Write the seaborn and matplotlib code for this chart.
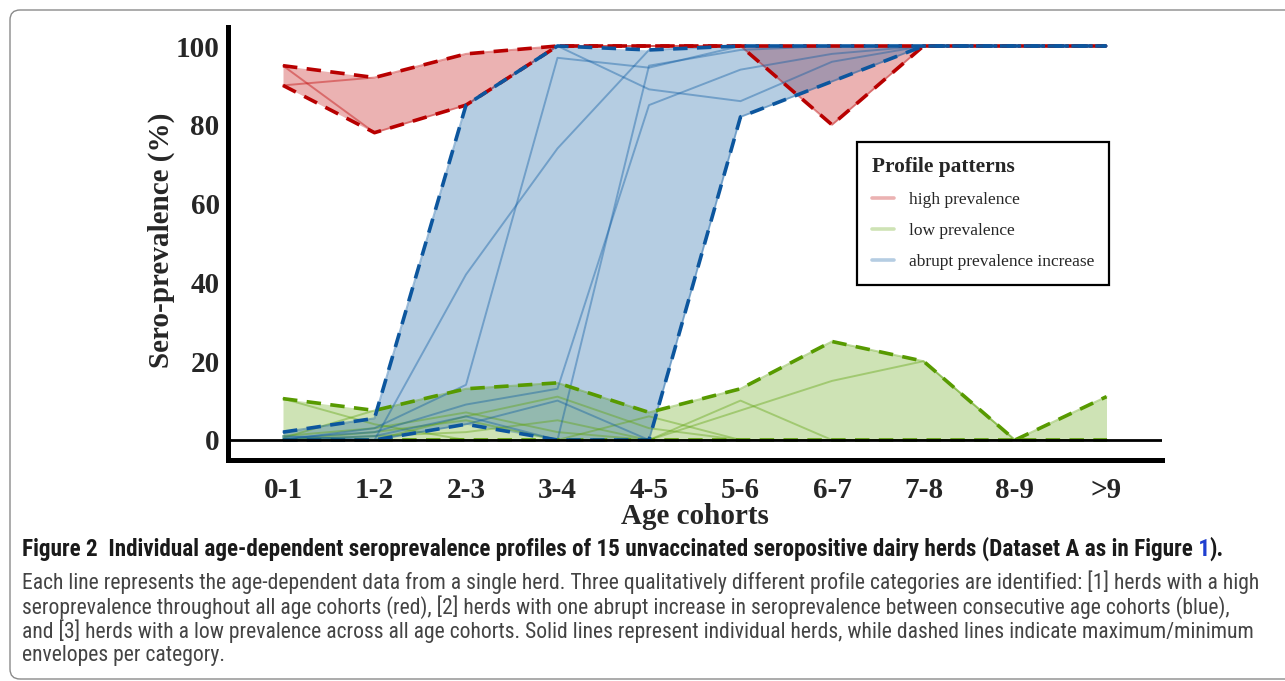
import numpy as np
import pandas as pd
import matplotlib
matplotlib.use("Agg")
import matplotlib.pyplot as plt
import seaborn as sns
from matplotlib.lines import Line2D
from matplotlib.patches import FancyBboxPatch
from matplotlib.transforms import IdentityTransform
from matplotlib import font_manager as fm

# ---------------- data ----------------
cohorts = ["0-1", "1-2", "2-3", "3-4", "4-5", "5-6", "6-7", "7-8", "8-9", ">9"]
y_ticks = [0, 20, 40, 60, 80, 100]

# high prevalence herds
high_1 = [95, 78, 85, 100, 100, 100, 80, 100, 100, 100]
high_2 = [90, 92, 98, 100, 100, 100, 100, 100, 100, 100]

# abrupt prevalence increase herds
abrupt_1 = [2, 5.5, 85, 100, 89, 86, 96, 100, 100, 100]
abrupt_2 = [1, 0, 42, 74, 99, 100, 100, 100, 100, 100]
abrupt_3 = [0, 3, 14, 97, 94.5, 100, 100, 100, 100, 100]
abrupt_4 = [0.5, 2, 9, 13, 85, 94, 98, 100, 100, 100]
abrupt_5 = [0, 1, 6, 0, 95, 99, 100, 100, 100, 100]
abrupt_6 = [0, 0, 4, 10, 0, 82, 91, 100, 100, 100]

# low prevalence herds
low_1 = [10.5, 4, 0, 0, 0, 0, 0, 0, 0, 0]
low_2 = [0.5, 7.5, 13, 14.5, 7, 13, 25, 20, 0, 11]
low_3 = [0, 0, 6, 11, 3, 0, 0, 0, 0, 0]
low_4 = [1, 3, 7, 2, 0, 10, 0, 0, 0, 0]
low_5 = [0, 1, 2, 5, 0, 7.5, 15, 20, 0, 0]
low_6 = [0, 0, 0, 0, 0, 0, 0, 0, 0, 0]
low_7 = [0, 2, 5, 0, 6, 0, 0, 0, 0, 0]

categories = ["low prevalence", "high prevalence", "abrupt prevalence increase"]
legend_order = ["high prevalence", "low prevalence", "abrupt prevalence increase"]
herd_groups = {
    "high prevalence": [high_1, high_2],
    "low prevalence": [low_1, low_2, low_3, low_4, low_5, low_6, low_7],
    "abrupt prevalence increase": [abrupt_1, abrupt_2, abrupt_3, abrupt_4, abrupt_5, abrupt_6],
}

base_colors = {"high prevalence": "#C00000",
               "low prevalence": "#5FA30C",
               "abrupt prevalence increase": "#0B5AA2"}
dash_colors = {"high prevalence": "#B80000",
               "low prevalence": "#579A00",
               "abrupt prevalence increase": "#0C569E"}

rows = []
hid = 0
for cat in categories:
    for herd in herd_groups[cat]:
        hid += 1
        for i, v in enumerate(herd):
            rows.append({"herd": hid, "category": cat, "x": i, "value": v})
df = pd.DataFrame(rows)

# ---------------- figure ----------------
sns.set_style("white")
plt.rcParams["font.family"] = ["Liberation Serif", "DejaVu Serif"]

W, H = 1285, 681
fig = plt.figure(figsize=(W / 100, H / 100), dpi=100)
def fx(px): return px / W
def fy(py): return 1 - py / H

ax_l, ax_r, ax_t, ax_b = 228, 1162, 27, 460
ax = fig.add_axes([fx(ax_l), fy(ax_b), (ax_r - ax_l) / W, (ax_b - ax_t) / H])

x_first_px, x_step_px = 283, 91.5
ax.set_xlim((ax_l - x_first_px) / x_step_px, (ax_r - x_first_px) / x_step_px)
y_px_per = (440 - 46) / 100
ax.set_ylim((440 - ax_b) / y_px_per, (440 - ax_t) / y_px_per)

# envelopes + fills
for cat in categories:
    sub = df[df.category == cat]
    env_max = sub.groupby("x")["value"].max()
    env_min = sub.groupby("x")["value"].min()
    ax.fill_between(env_max.index, env_min.values, env_max.values,
                    color=base_colors[cat], alpha=0.3, lw=0, zorder=1)

# individual herd lines
sns.lineplot(data=df, x="x", y="value", hue="category", units="herd",
             estimator=None, palette=base_colors, hue_order=categories,
             alpha=0.4, lw=1.4, legend=False, ax=ax, zorder=2)

for cat in categories:
    sub = df[df.category == cat]
    env_max = sub.groupby("x")["value"].max()
    env_min = sub.groupby("x")["value"].min()
    for env in (env_max, env_min):
        ax.plot(env.index, env.values, color=dash_colors[cat], lw=2.6,
                linestyle=(0, (4, 2.6)), zorder=3, dash_capstyle="butt")

ax.axhline(0, color="black", lw=2.0, zorder=4)

# axes styling
for s in ["top", "right"]:
    ax.spines[s].set_visible(False)
for s in ["left", "bottom"]:
    ax.spines[s].set_linewidth(3.6)
    ax.spines[s].set_color("black")
ax.set_xticks(range(len(cohorts)))
ax.set_xticklabels(cohorts)
ax.set_yticks(y_ticks)
ax.tick_params(axis="both", which="major", length=4, width=1.8, color="#333333",
               labelsize=21, direction="out")
ax.tick_params(axis="y", pad=2)
ax.tick_params(axis="x", pad=8)
for lab in ax.get_xticklabels() + ax.get_yticklabels():
    lab.set_fontweight("bold")
ax.grid(False)

ax.set_xlabel("Age cohorts", fontsize=21, fontweight="bold", va="center")
ax.set_ylabel("Sero-prevalence (%)", fontsize=21, fontweight="bold", va="center")
ax.xaxis.set_label_coords(0.5, (ax_b - 516) / (ax_b - ax_t))
ax.yaxis.set_label_coords((161 - ax_l) / (ax_r - ax_l), (ax_b - 240) / (ax_b - ax_t))

# legend
handles = [Line2D([0], [0], color=base_colors[c], alpha=0.3, lw=2.6) for c in legend_order]
leg = ax.legend(handles, legend_order, title="Profile patterns",
                loc="upper left",
                bbox_to_anchor=((857 - ax_l) / (ax_r - ax_l), (ax_b - 142) / (ax_b - ax_t)),
                borderaxespad=0, frameon=True, fancybox=False, framealpha=1,
                edgecolor="black", fontsize=12.5, title_fontsize=15.4,
                handlelength=1.3, handletextpad=0.85, labelspacing=0.86,
                borderpad=0.85, alignment="left")
leg.get_frame().set_linewidth(1.6)
leg.get_title().set_fontweight("bold")

# outer rounded frame
frame = FancyBboxPatch((10, 2), 1300, 669, boxstyle="round,pad=0,rounding_size=10",
                       transform=IdentityTransform(), facecolor="none",
                       edgecolor="#8a8a8a", lw=1.0, zorder=0)
fig.patches.append(frame)

# caption
def pick_font(cands):
    for c in cands:
        try:
            fm.findfont(fm.FontProperties(family=c), fallback_to_default=False)
            return c
        except Exception:
            continue
    return "DejaVu Sans"

cap_font = pick_font(["Liberation Sans Narrow", "Roboto Condensed", "Open Sans Condensed",
                      "DejaVu Sans Condensed", "Open Sans", "Noto Sans"])
renderer = fig.canvas.get_renderer()

def fitted_size(s, target_w, weight):
    t = fig.text(0, 0, s, fontsize=12, family=cap_font, fontweight=weight)
    w = t.get_window_extent(renderer).width
    t.remove()
    return 12 * target_w / w

title_a = "Figure 2  Individual age-dependent seroprevalence profiles of 15 unvaccinated seropositive dairy herds (Dataset A as in Figure"
title_b = " 1"
title_c = ")."
bold_size = fitted_size(title_a + title_b + title_c, 1232 - 22, "bold")
xpos = 22
for part, col in [(title_a, "#1a1a1a"), (title_b, "#1f3fd0"), (title_c, "#1a1a1a")]:
    t = fig.text(fx(xpos), fy(549), part, fontsize=bold_size, family=cap_font,
                 fontweight="bold", color=col, va="center", ha="left")
    xpos = t.get_window_extent(renderer).x1

body = [
    "Each line represents the age-dependent data from a single herd. Three qualitatively different profile categories are identified: [1] herds with a high",
    "seroprevalence throughout all age cohorts (red), [2] herds with one abrupt increase in seroprevalence between consecutive age cohorts (blue),",
    "and [3] herds with a low prevalence across all age cohorts. Solid lines represent individual herds, while dashed lines indicate maximum/minimum",
    "envelopes per category.",
]
body_y = [582, 607, 631, 656]
body_size = fitted_size(body[0], 1262 - 22, "normal")
for s, yy in zip(body, body_y):
    fig.text(fx(22), fy(yy), s, fontsize=body_size, family=cap_font,
             color="#444444", va="center", ha="left")

fig.savefig("out.png", dpi=100)
